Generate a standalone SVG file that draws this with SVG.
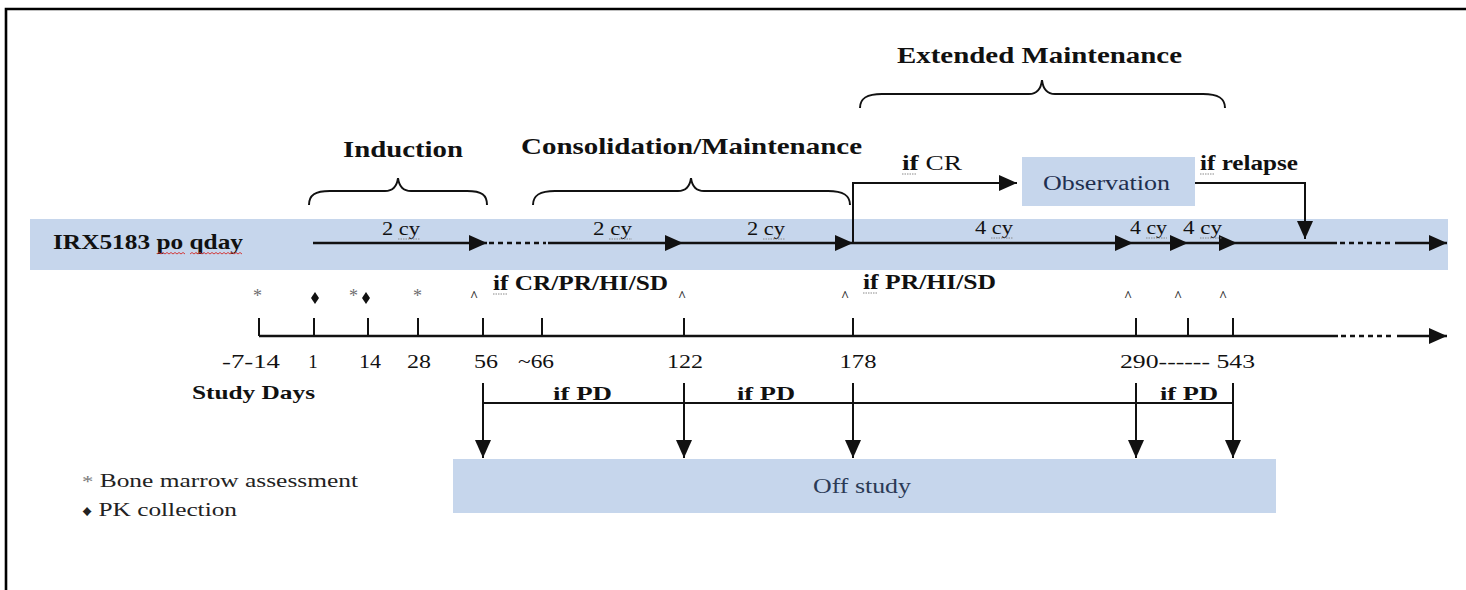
<svg xmlns="http://www.w3.org/2000/svg" width="1466" height="590" viewBox="0 0 1466 590">
<style>
text{font-family:"Liberation Serif","Times New Roman",serif;fill:#111}
.h{font-size:24px;font-weight:bold}
.bb{font-size:20px;font-weight:bold}
.rg{font-size:20px}
.cy{font-size:18px}
.day{font-size:19px}
.box{fill:#c6d6ec}
.ln{stroke:#111;stroke-width:2.4;fill:none}
.ln2{stroke:#111;stroke-width:2;fill:none}
.dash{stroke:#111;stroke-width:2.4;fill:none;stroke-dasharray:5,4}
.gu{stroke:#8a8a8a;stroke-width:1;stroke-dasharray:1.5,1;fill:none}
.sq{stroke:#d23a3a;stroke-width:1;fill:none}
.ast{font-size:18px;fill:#6f6f6f}
.car{font-size:14px;font-weight:bold;fill:#333}
.leg{font-size:19px;fill:#222}
</style>
<defs>
<marker id="ah" viewBox="0 0 18 16" refX="18" refY="8" markerWidth="18" markerHeight="16" markerUnits="userSpaceOnUse" orient="auto">
<path d="M0,0 L18,8 L0,16 z" fill="#111"/>
</marker>
</defs>
<rect width="1466" height="590" fill="#ffffff"/>
<path d="M6,590 V9 H1466" fill="none" stroke="#000" stroke-width="2.6"/>

<g id="band">
<rect class="box" x="30" y="219" width="1418" height="51"/>
<text class="bb" x="53" y="249" textLength="190" lengthAdjust="spacingAndGlyphs" style="font-size:21px">IRX5183 po qday</text>
<path class="sq" d="M157,254 l2,-1.5 l2,1.5 l2,-1.5 l2,1.5 l2,-1.5 l2,1.5 l2,-1.5 l2,1.5 l2,-1.5 l2,1.5 l2,-1.5 l2,1.5 l2,-1.5 l2,1.5"/>
<path class="sq" d="M190,254 l2,-1.5 l2,1.5 l2,-1.5 l2,1.5 l2,-1.5 l2,1.5 l2,-1.5 l2,1.5 l2,-1.5 l2,1.5 l2,-1.5 l2,1.5 l2,-1.5 l2,1.5 l2,-1.5 l2,1.5 l2,-1.5 l2,1.5 l2,-1.5 l2,1.5 l2,-1.5 l2,1.5 l2,-1.5 l2,1.5 l2,-1.5 l2,1.5"/>
</g>

<g id="phase-induction">
<text class="h" x="343" y="157" textLength="120" lengthAdjust="spacingAndGlyphs" style="font-size:23px">Induction</text>
<path class="ln2" d="M309,205 C309,195 315,191 330,191 L385,191 C393,191 397,186 398,178 C399,186 403,191 411,191 L467,191 C482,191 487,195 487,205"/>
</g>
<g id="phase-consolidation">
<text class="h" x="521" y="154" textLength="341" lengthAdjust="spacingAndGlyphs" style="font-size:23px">Consolidation/Maintenance</text>
<path class="ln2" d="M533,205 C533,195 540,191 555,191 L678,191 C686,191 690,186 691,178 C692,186 696,191 704,191 L828,191 C843,191 850,195 850,205"/>
</g>
<g id="phase-extended">
<text class="h" x="897" y="63" textLength="285" lengthAdjust="spacingAndGlyphs">Extended Maintenance</text>
<path class="ln2" d="M860,108 C860,98 867,94 882,94 L1029,94 C1037,94 1041,89 1042,80 C1043,89 1047,94 1055,94 L1203,94 C1218,94 1225,98 1225,108"/>
</g>

<g id="observation">
<rect class="box" x="1022" y="157" width="173" height="49"/>
<text class="rg" x="1043" y="190" textLength="127" lengthAdjust="spacingAndGlyphs" style="fill:#1f2f4f">Observation</text>
</g>

<g id="offstudy">
<rect class="box" x="453" y="459" width="823" height="54"/>
<text class="rg" x="813" y="493" textLength="98" lengthAdjust="spacingAndGlyphs" style="fill:#2b3a55">Off study</text>
</g>

<g id="connectors">
<path class="ln" d="M313,243 H487" marker-end="url(#ah)"/>
<path class="dash" d="M489,243 H546"/>
<path class="ln" d="M548,243 H683" marker-end="url(#ah)"/>
<path class="ln" d="M683,243 H853" marker-end="url(#ah)"/>
<path class="ln" d="M853,243 H1133" marker-end="url(#ah)"/>
<path class="ln" d="M1133,243 H1188" marker-end="url(#ah)"/>
<path class="ln" d="M1188,243 H1237" marker-end="url(#ah)"/>
<path class="ln" d="M1237,243 H1337"/>
<path class="dash" d="M1340,243 H1393"/>
<path class="ln" d="M1395,243 H1447" marker-end="url(#ah)"/>
<path class="ln2" d="M853,243 V183 H1017" marker-end="url(#ah)"/>
<path class="ln2" d="M1195,183 H1305 V239" marker-end="url(#ah)"/>
<path class="ln" d="M259,336 H1338"/>
<path class="dash" d="M1341,336 H1395"/>
<path class="ln" d="M1397,336 H1447" marker-end="url(#ah)"/>
<path class="ln2" d="M259,318 V336 M314,318 V336 M368,318 V336 M418,318 V336 M483,318 V336 M542,318 V336 M684,318 V336 M853,318 V336 M1136,318 V336 M1188,318 V336 M1233,318 V336"/>
<path class="ln2" d="M483,403 H1233"/>
<path class="ln2" d="M483,383 V458" marker-end="url(#ah)"/>
<path class="ln2" d="M684,383 V458" marker-end="url(#ah)"/>
<path class="ln2" d="M853,383 V458" marker-end="url(#ah)"/>
<path class="ln2" d="M1136,383 V458" marker-end="url(#ah)"/>
<path class="ln2" d="M1233,383 V458" marker-end="url(#ah)"/>
</g>

<g id="labels">
<text class="cy" x="382" y="235" textLength="38" lengthAdjust="spacingAndGlyphs">2 cy</text>
<text class="cy" x="593" y="235" textLength="39" lengthAdjust="spacingAndGlyphs">2 cy</text>
<text class="cy" x="747" y="235" textLength="38" lengthAdjust="spacingAndGlyphs">2 cy</text>
<text class="cy" x="975" y="234" textLength="38" lengthAdjust="spacingAndGlyphs">4 cy</text>
<text class="cy" x="1130" y="234" textLength="37" lengthAdjust="spacingAndGlyphs">4 cy</text>
<text class="cy" x="1183" y="234" textLength="39" lengthAdjust="spacingAndGlyphs">4 cy</text>
<path class="gu" d="M398,239 H420 M609,239 H632 M763,239 H785 M991,238 H1013 M1146,238 H1167 M1200,238 H1222"/>
<text class="rg" x="902" y="170" textLength="60" lengthAdjust="spacingAndGlyphs"><tspan font-weight="bold">if</tspan> CR</text>
<text class="bb" x="1200" y="170" textLength="98" lengthAdjust="spacingAndGlyphs">if relapse</text>
<text class="bb" x="493" y="290" textLength="175" lengthAdjust="spacingAndGlyphs">if CR/PR/HI/SD</text>
<text class="bb" x="863" y="289" textLength="133" lengthAdjust="spacingAndGlyphs">if PR/HI/SD</text>
<path class="gu" d="M902,174 H916 M1200,174 H1214 M493,294 H508 M863,293 H877"/>
<text class="ast" x="253" y="302">*</text>
<text class="ast" x="349" y="302">*</text>
<text class="ast" x="413" y="302">*</text>
<polygon points="315,292 319,298 315,304 311,298" fill="#111"/>
<polygon points="366,292 370,298 366,304 362,298" fill="#111"/>
<text class="car" x="470" y="301">^</text>
<text class="car" x="678" y="301">^</text>
<text class="car" x="841" y="301">^</text>
<text class="car" x="1124" y="301">^</text>
<text class="car" x="1174" y="301">^</text>
<text class="car" x="1219" y="301">^</text>
<text class="day" x="222" y="368" textLength="58" lengthAdjust="spacingAndGlyphs">-7-14</text>
<text class="day" x="313" y="368" text-anchor="middle">1</text>
<text class="day" x="370" y="368" text-anchor="middle" textLength="22" lengthAdjust="spacingAndGlyphs">14</text>
<text class="day" x="419" y="368" text-anchor="middle" textLength="24" lengthAdjust="spacingAndGlyphs">28</text>
<text class="day" x="486" y="368" text-anchor="middle" textLength="24" lengthAdjust="spacingAndGlyphs">56</text>
<text class="day" x="536" y="368" text-anchor="middle" textLength="36" lengthAdjust="spacingAndGlyphs">~66</text>
<text class="day" x="685" y="368" text-anchor="middle" textLength="36" lengthAdjust="spacingAndGlyphs">122</text>
<text class="day" x="858" y="368" text-anchor="middle" textLength="37" lengthAdjust="spacingAndGlyphs">178</text>
<text class="day" x="1120" y="368" textLength="135" lengthAdjust="spacingAndGlyphs">290------ 543</text>
<text class="bb" x="192" y="399" textLength="123" lengthAdjust="spacingAndGlyphs" style="font-size:19px">Study Days</text>
<text class="bb" x="553" y="400" textLength="59" lengthAdjust="spacingAndGlyphs" style="font-size:19px">if PD</text>
<text class="bb" x="737" y="400" textLength="58" lengthAdjust="spacingAndGlyphs" style="font-size:19px">if PD</text>
<text class="bb" x="1160" y="400" textLength="58" lengthAdjust="spacingAndGlyphs" style="font-size:19px">if PD</text>
</g>

<g id="legend">
<text class="leg" x="82" y="487" textLength="276" lengthAdjust="spacingAndGlyphs"><tspan style="fill:#7a7a7a;font-size:17px">*</tspan> Bone marrow assessment</text>
<text class="leg" x="82" y="516" textLength="155" lengthAdjust="spacingAndGlyphs" style="font-family:'Liberation Serif','DejaVu Sans',serif"><tspan style="font-size:15px">♦</tspan> PK collection</text>
</g>
</svg>
